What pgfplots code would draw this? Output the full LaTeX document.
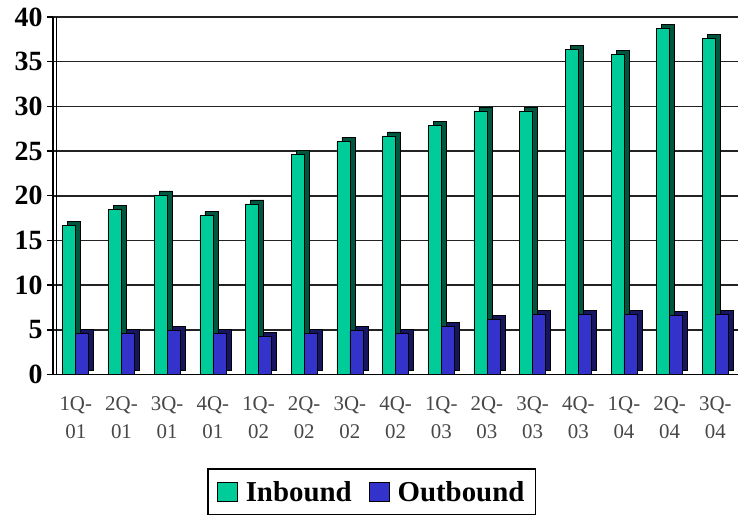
\documentclass[border=0pt]{standalone}
\usepackage{pgfplots}
\pgfplotsset{compat=1.18}
\usepackage{pgfplotstable}
\usepackage{fontspec}
\setmainfont{Liberation Serif}

\definecolor{inb}{RGB}{0,204,153}
\definecolor{inbside}{RGB}{0,85,62}
\definecolor{outb}{RGB}{51,51,204}
\definecolor{outbside}{RGB}{22,22,96}
\definecolor{gridc}{RGB}{35,35,35}

% quarterly traffic: inbound and outbound
\pgfplotstableread{
x  in    out
0  16.7  4.6
1  18.5  4.6
2  20.1  4.9
3  17.8  4.6
4  19.1  4.3
5  24.6  4.6
6  26.1  4.9
7  26.7  4.65
8  27.9  5.4
9  29.5  6.2
10 29.5  6.7
11 36.4  6.7
12 35.8  6.7
13 38.7  6.6
14 37.6  6.7
}\datatable

\begin{document}
\begin{tikzpicture}
\begin{axis}[
  name=ax,
  scale only axis,
  width=686bp, height=358bp,
  xmin=-0.5, xmax=14.5,
  ymin=0, ymax=40,
  axis lines=left,
  axis line style={-, black, line width=1.6bp},
  ytick={0,5,...,40},
  xtick={0,...,14},
  xticklabels={{1Q-\\01},{2Q-\\01},{3Q-\\01},{4Q-\\01},{1Q-\\02},{2Q-\\02},{3Q-\\02},{4Q-\\02},{1Q-\\03},{2Q-\\03},{3Q-\\03},{4Q-\\03},{1Q-\\04},{2Q-\\04},{3Q-\\04}},
  minor xtick={-0.5,0.5,...,14.5},
  tick align=outside,
  major tick length=6bp,
  minor tick length=7bp,
  xtick style={draw=none},
  minor tick style={draw=black, line width=1.4bp},
  ytick style={draw=black, line width=1.4bp},
  ymajorgrids,
  grid style={gridc, line width=1.6bp},
  /pgf/number format/assume math mode=true,
  yticklabel style={font=\fontsize{28}{28}\selectfont\bfseries, xshift=-1bp},
  xticklabel style={font=\fontsize{21}{28}\selectfont, align=center, text=black!72, yshift=-13bp},
  legend style={at={(0.465,-0.262)}, anchor=north, legend columns=2,
    draw=black, line width=1.6bp, inner xsep=9bp, inner ysep=10bp,
    font=\fontsize{29}{30}\selectfont\bfseries,
    /tikz/every odd column/.append style={column sep=6bp},
    /tikz/every even column/.append style={column sep=15bp}},
  legend image code/.code={\draw[#1, draw=black, line width=1bp] (0bp,-9.5bp) rectangle (20bp,9.5bp);},
]
% side faces, offset up and to the right for depth
\addplot[ybar, bar width=13bp, bar shift=-1.5bp, yshift=4bp, fill=inbside, draw=black, line width=0.6bp, forget plot]
  table[x=x, y=in]{\datatable};
\addplot[ybar, bar width=13bp, bar shift=-6.5bp, fill=inb, draw=black, line width=0.6bp]
  table[x=x, y=in]{\datatable};
\addlegendentry{Inbound}
\addplot[ybar, bar width=13bp, bar shift=11.5bp, yshift=4bp, fill=outbside, draw=black, line width=0.6bp, forget plot]
  table[x=x, y=out]{\datatable};
\addplot[ybar, bar width=13bp, bar shift=6.5bp, fill=outb, draw=black, line width=0.6bp]
  table[x=x, y=out]{\datatable};
\addlegendentry{Outbound}
\end{axis}
% inner edge of the back wall
\draw[black, line width=1bp] ([xshift=4bp]ax.south west) -- ([xshift=4bp]ax.north west);
\path (ax.south west) ++(-53bp,-141bp) rectangle ++(739bp,516bp);
\end{tikzpicture}
\end{document}
